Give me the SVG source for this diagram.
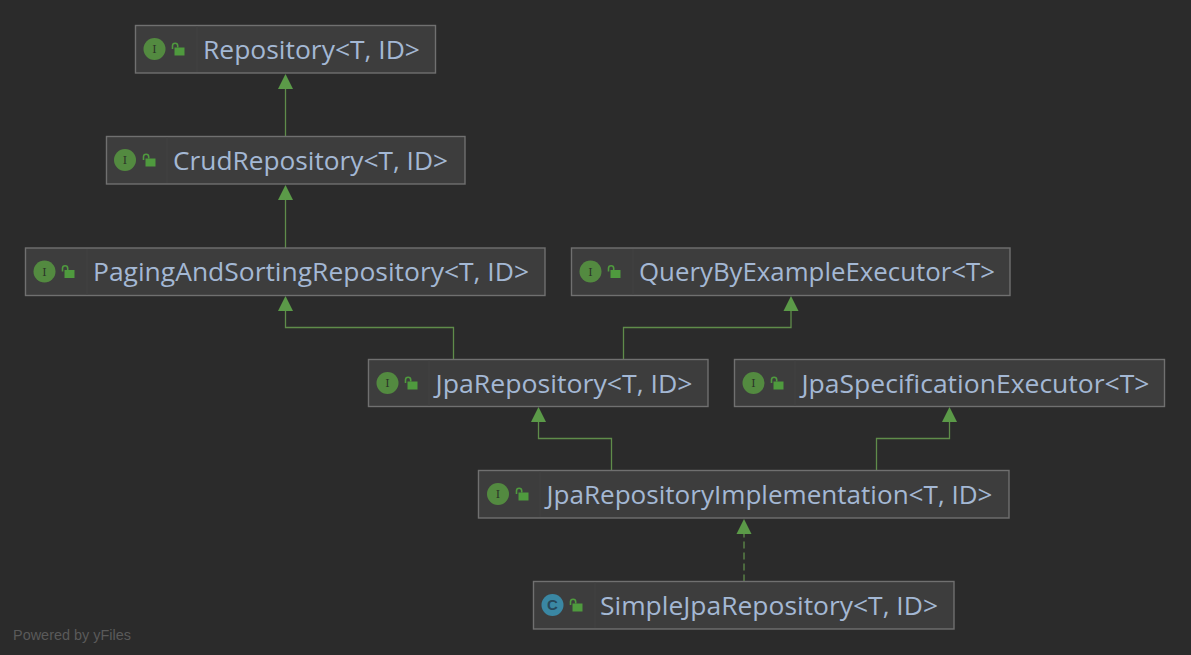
<svg xmlns="http://www.w3.org/2000/svg" width="1191" height="655" viewBox="0 0 1191 655">
<style>
.box{fill:#3d3d3d;stroke:#707070;stroke-width:1.4}
.div{stroke:#424242;stroke-width:1}
.lbl{font-family:"Open Sans","Noto Sans",sans-serif;font-size:25px;fill:#a4b8d4}
.ico{fill:#538a40}
.icoc{fill:#3a87a3}
.let{font-family:"DejaVu Serif","Liberation Serif",serif;font-size:11px;fill:#2b3328;text-anchor:middle}
.letc{font-family:"Liberation Sans",sans-serif;font-size:15px;font-weight:bold;fill:#27485a;text-anchor:middle}
.edge{fill:none;stroke:#5f8c4a;stroke-width:1.3}
.dash{stroke-dasharray:7 4}
.head{fill:#5b9a48}
.lockb{fill:#4f9a3e}
.locks{fill:none;stroke:#4f9a3e;stroke-width:1.6}
.foot{font-family:"Liberation Sans",Arial,sans-serif;font-size:14px;fill:#5a5a5a}
</style>
<defs>
<g id="lock"><rect class="lockb" x="-3.5" y="-2.5" width="10" height="8"/><path class="locks" d="M-5.5 -1V-4.200a2.600 2.600 0 0 1 5.200 0V-2.500"/></g>
<path id="ah" class="head" d="M0 0L7.500 15H-7.500Z"/>
</defs>
<rect width="1191" height="655" fill="#2b2b2b"/>
<g id="connectors">
<path class="edge" d="M285.500 88V137"/><use href="#ah" x="285.500" y="74"/>
<path class="edge" d="M285.500 199V248"/><use href="#ah" x="285.500" y="185"/>
<path class="edge" d="M453.500 359.500V327.500H285.500V310"/><use href="#ah" x="285.500" y="296"/>
<path class="edge" d="M623.500 359.500V327.500H791V310"/><use href="#ah" x="791" y="296"/>
<path class="edge" d="M611.500 470.500V438.500H538.500V421"/><use href="#ah" x="538.500" y="407"/>
<path class="edge" d="M876.500 470.500V438.500H949.500V421"/><use href="#ah" x="949.500" y="407"/>
<path class="edge dash" d="M744 581.500V533"/><use href="#ah" x="744" y="519"/>
</g>
<g id="n1"><rect class="box" x="135.500" y="25.500" width="300" height="47.500"/><path class="div" d="M197 26.500V72"/><circle class="ico" cx="154.500" cy="49" r="11"/><text class="let" x="154.500" y="53">I</text><use href="#lock" x="178" y="50"/><text class="lbl" x="203" y="59" textLength="217" lengthAdjust="spacingAndGlyphs">Repository&lt;T, ID&gt;</text></g>
<g id="n2"><rect class="box" x="106.500" y="136.500" width="358.500" height="47.500"/><path class="div" d="M167 137.500V183"/><circle class="ico" cx="125" cy="160" r="11"/><text class="let" x="125" y="164">I</text><use href="#lock" x="149" y="161"/><text class="lbl" x="173" y="170" textLength="275" lengthAdjust="spacingAndGlyphs">CrudRepository&lt;T, ID&gt;</text></g>
<g id="n3"><rect class="box" x="25.500" y="248" width="519.500" height="47.500"/><path class="div" d="M87 249V294.500"/><circle class="ico" cx="44.500" cy="271.500" r="11"/><text class="let" x="44.500" y="275.500">I</text><use href="#lock" x="68" y="272.500"/><text class="lbl" x="93" y="281" textLength="436" lengthAdjust="spacingAndGlyphs">PagingAndSortingRepository&lt;T, ID&gt;</text></g>
<g id="n4"><rect class="box" x="571.500" y="248" width="438.500" height="47.500"/><path class="div" d="M633 249V294.500"/><circle class="ico" cx="590.500" cy="271.500" r="11"/><text class="let" x="590.500" y="275.500">I</text><use href="#lock" x="614" y="272.500"/><text class="lbl" x="639" y="281" textLength="356" lengthAdjust="spacingAndGlyphs">QueryByExampleExecutor&lt;T&gt;</text></g>
<g id="n5"><rect class="box" x="368.500" y="359.500" width="339.500" height="47"/><path class="div" d="M429 360.500V405.500"/><circle class="ico" cx="387.500" cy="383" r="11"/><text class="let" x="387.500" y="387">I</text><use href="#lock" x="411" y="384"/><text class="lbl" x="435.500" y="393" textLength="257" lengthAdjust="spacingAndGlyphs">JpaRepository&lt;T, ID&gt;</text></g>
<g id="n6"><rect class="box" x="734.500" y="359.500" width="430" height="47"/><path class="div" d="M795 360.500V405.500"/><circle class="ico" cx="753.500" cy="383" r="11"/><text class="let" x="753.500" y="387">I</text><use href="#lock" x="777" y="384"/><text class="lbl" x="801.500" y="393" textLength="348" lengthAdjust="spacingAndGlyphs">JpaSpecificationExecutor&lt;T&gt;</text></g>
<g id="n7"><rect class="box" x="478.500" y="470.500" width="530.500" height="47.500"/><path class="div" d="M540 471.500V517"/><circle class="ico" cx="498" cy="494" r="11"/><text class="let" x="498" y="498">I</text><use href="#lock" x="522" y="495"/><text class="lbl" x="546.500" y="504" textLength="446" lengthAdjust="spacingAndGlyphs">JpaRepositoryImplementation&lt;T, ID&gt;</text></g>
<g id="n8"><rect class="box" x="533.500" y="581.500" width="420.500" height="47.500"/><path class="div" d="M595 582.500V628"/><circle class="icoc" cx="552.500" cy="605" r="11"/><text class="letc" x="552.500" y="610">C</text><use href="#lock" x="576" y="606"/><text class="lbl" x="600" y="615" textLength="338" lengthAdjust="spacingAndGlyphs">SimpleJpaRepository&lt;T, ID&gt;</text></g>
<text class="foot" x="13" y="640" textLength="118" lengthAdjust="spacingAndGlyphs">Powered by yFiles</text>
</svg>
